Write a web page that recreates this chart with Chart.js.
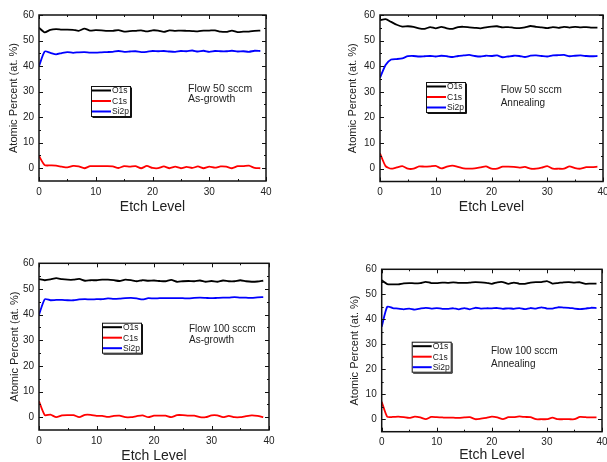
<!DOCTYPE html>
<html>
<head>
<meta charset="utf-8">
<script src="https://cdn.jsdelivr.net/npm/chart.js@4.4.1/dist/chart.umd.min.js"></script>
<style>
  html, body { margin: 0; padding: 0; background: #fff; width: 607px; height: 462px; overflow: hidden; }
  canvas { position: absolute; }
</style>
</head>
<body>
<canvas id="c1" width="300" height="230" style="left:0;top:0"></canvas>
<canvas id="c2" width="307" height="230" style="left:300px;top:0"></canvas>
<canvas id="c3" width="300" height="232" style="left:0;top:230px"></canvas>
<canvas id="c4" width="307" height="232" style="left:300px;top:230px"></canvas>
<script>
// Etch levels (x values) shared by all four depth profiles
const etchLevel = [0, 1, 2, 3, 4, 5, 6, 7, 8, 9,
  10, 11, 12, 13, 14, 15, 16, 17, 18, 19,
  20, 21, 22, 23, 24, 25, 26, 27, 28, 29,
  30, 31, 32, 33, 34, 35, 36, 37, 38, 39];

const xTickValues = [0, 10, 20, 30, 40];
const xMinorValues = [5, 15, 25, 35];
const yTickValues = [0, 10, 20, 30, 40, 50, 60];
const yMinorValues = [5, 15, 25, 35, 45, 55];

// Flow 50 sccm, as-growth
const o1s50Grown = [55.0, 53.2, 54.2, 54.5, 54.3, 54.3, 54.2, 53.8, 54.7, 53.9,
  54.1, 54.0, 53.8, 53.8, 54.1, 53.5, 53.7, 53.8, 54.0, 53.6,
  54.0, 53.9, 53.4, 54.0, 53.8, 53.9, 53.8, 53.7, 53.6, 53.9,
  53.9, 54.0, 53.5, 53.4, 53.9, 53.3, 53.5, 53.5, 53.8, 53.9];
const c1s50Grown = [4.8, 1.2, 1.1, 1.0, 0.6, 0.3, 0.9, 0.7, 0.0, 0.8,
  0.8, 0.8, 0.8, 0.7, 0.1, 0.8, 0.6, 0.8, 0.0, 0.9,
  0.1, 0.0, 0.7, 0.0, 0.6, 0.0, 0.5, 0.1, 0.7, 0.0,
  0.6, 0.2, 0.7, 0.6, 0.0, 0.8, 0.8, 1.0, 0.1, 0.0];
const si2p50Grown = [40.0, 45.7, 45.2, 44.6, 45.1, 45.5, 45.2, 45.4, 45.5, 45.3,
  45.3, 45.4, 45.5, 45.6, 45.9, 45.6, 45.7, 45.8, 45.5, 45.6,
  45.9, 45.8, 45.9, 45.7, 45.6, 45.9, 45.8, 46.1, 45.7, 46.0,
  45.6, 45.9, 45.8, 45.8, 46.0, 45.7, 45.8, 45.6, 46.0, 45.9];

// Flow 50 sccm, annealed
const o1s50Anneal = [58.0, 58.4, 57.3, 56.2, 55.5, 55.6, 55.4, 54.8, 54.6, 55.3,
  54.8, 55.4, 54.8, 54.6, 55.3, 55.4, 55.2, 55.0, 54.8, 55.2,
  55.5, 55.6, 55.2, 55.3, 55.0, 54.9, 55.2, 55.7, 55.4, 55.2,
  54.9, 55.3, 55.0, 55.4, 55.1, 55.4, 55.2, 55.3, 55.1, 55.1];
const c1s50Anneal = [6.0, 1.0, 0.0, 0.5, 1.0, 0.0, 0.0, 0.9, 0.8, 0.9,
  1.1, 0.1, 0.8, 1.2, 0.7, 0.1, 0.0, 0.1, 0.5, 0.9,
  0.0, 0.0, 0.8, 0.8, 0.7, 0.4, 0.7, 0.0, 0.0, 0.4,
  1.0, 0.0, 0.0, 0.0, 0.9, 0.2, 0.0, 0.6, 0.6, 0.8];
const si2p50Anneal = [35.5, 40.5, 42.6, 42.8, 43.1, 43.9, 44.0, 43.8, 43.9, 44.0,
  43.8, 44.1, 43.9, 43.6, 44.0, 44.2, 44.4, 44.0, 43.8, 44.1,
  44.0, 44.2, 43.5, 43.8, 44.1, 44.0, 43.6, 44.1, 44.2, 44.0,
  43.8, 44.2, 44.3, 44.4, 43.9, 44.1, 44.2, 44.0, 43.9, 44.0];

// Flow 100 sccm, as-growth
const o1s100Grown = [53.8, 53.4, 53.7, 54.2, 53.8, 53.6, 53.6, 53.9, 53.2, 53.4,
  53.4, 53.6, 53.6, 53.4, 53.1, 53.6, 53.4, 53.0, 53.4, 53.2,
  53.3, 53.1, 53.0, 53.5, 52.8, 53.0, 53.1, 53.0, 53.3, 52.8,
  53.1, 52.8, 53.3, 53.0, 53.0, 53.4, 53.0, 52.8, 52.9, 53.2];
const c1s100Grown = [6.2, 0.8, 1.0, 0.0, 0.7, 0.8, 0.8, 0.0, 0.9, 0.9,
  0.5, 0.5, 0.1, 0.5, 0.6, 0.0, 0.0, 0.4, 0.7, 0.0,
  0.6, 0.6, 0.6, 0.0, 0.8, 0.8, 0.6, 0.6, 0.0, 0.0,
  0.7, 0.7, 0.0, 0.5, 0.0, 0.0, 0.4, 0.7, 0.5, 0.0];
const si2p100Grown = [39.9, 46.0, 45.6, 45.7, 45.7, 45.6, 45.6, 45.9, 46.0, 45.9,
  46.0, 46.0, 46.3, 46.1, 46.2, 46.4, 46.5, 46.3, 45.9, 46.4,
  46.3, 46.4, 46.4, 46.4, 46.4, 46.4, 46.3, 46.5, 46.6, 46.5,
  46.4, 46.5, 46.6, 46.6, 46.8, 46.6, 46.6, 46.5, 46.7, 46.8];

// Flow 100 sccm, annealed
const o1s100Anneal = [55.6, 54.1, 54.0, 54.0, 54.4, 54.5, 54.4, 54.5, 55.0, 54.5,
  54.5, 54.7, 54.6, 54.8, 54.6, 54.6, 54.7, 54.9, 54.8, 54.6,
  54.2, 54.8, 54.9, 54.2, 54.7, 54.2, 54.2, 54.7, 54.9, 54.9,
  55.3, 54.3, 54.5, 54.8, 54.9, 54.7, 54.8, 54.2, 54.3, 54.3];
const c1s100Anneal = [7.0, 1.0, 0.9, 1.0, 0.8, 0.5, 1.0, 0.7, 0.0, 0.9,
  0.8, 0.7, 0.6, 0.6, 0.5, 0.7, 0.8, 0.0, 0.2, 0.5,
  1.0, 0.7, 0.0, 0.8, 0.8, 1.1, 0.9, 0.8, 0.0, 0.0,
  0.0, 0.6, 0.0, 0.0, 0.0, 0.0, 0.9, 0.8, 0.7, 0.7];
const si2p100Anneal = [37.0, 45.0, 44.5, 44.3, 44.0, 44.3, 43.9, 44.3, 44.6, 44.3,
  44.5, 44.2, 44.2, 44.4, 44.0, 44.5, 44.0, 44.6, 44.3, 44.4,
  44.4, 44.5, 44.2, 44.4, 44.2, 44.5, 44.1, 44.5, 44.3, 44.8,
  44.3, 44.3, 44.8, 44.7, 44.6, 44.3, 44.1, 44.3, 44.6, 44.5];

const FONT = "'Liberation Sans', Arial, sans-serif";
Chart.defaults.font.family = FONT;

// Frame with inward ticks on all sides, a boxed key and a text note inside the plot
const frameAndNotes = {
  id: 'frameAndNotes',
  afterDatasetsDraw(chart, args, opts) {
    const { ctx, chartArea: a, scales: { x, y } } = chart;
    ctx.save();
    ctx.strokeStyle = '#111';
    ctx.lineWidth = 1;
    ctx.beginPath();
    const xt = (vals, len) => vals.forEach(v => {
      const px = Math.round(x.getPixelForValue(v)) + 0.5;
      ctx.moveTo(px, a.bottom); ctx.lineTo(px, a.bottom - len);
      ctx.moveTo(px, a.top); ctx.lineTo(px, a.top + len);
    });
    const yt = (vals, len) => vals.forEach(v => {
      const py = Math.round(y.getPixelForValue(v)) + 0.5;
      ctx.moveTo(a.left, py); ctx.lineTo(a.left + len, py);
      ctx.moveTo(a.right, py); ctx.lineTo(a.right - len, py);
    });
    xt(xTickValues, 4); xt(xMinorValues, 2);
    yt(yTickValues, 4); yt(yMinorValues, 2);
    ctx.stroke();

    ctx.lineWidth = 1.5;
    ctx.strokeRect(a.left, a.top, a.right - a.left, a.bottom - a.top);

    // key box
    const k = opts.key;
    const kw = 39, kh = 30;
    ctx.fillStyle = '#fff';
    ctx.fillRect(k.x, k.y, kw, kh);
    ctx.lineWidth = 1;
    ctx.strokeStyle = '#111';
    ctx.strokeRect(k.x + 0.5, k.y + 0.5, kw, kh);
    ctx.beginPath();
    ctx.moveTo(k.x + kw + 1.5, k.y + 1.5); ctx.lineTo(k.x + kw + 1.5, k.y + kh + 1.5);
    ctx.lineTo(k.x + 1.5, k.y + kh + 1.5);
    ctx.stroke();
    ctx.font = '8.5px ' + FONT;
    ctx.textBaseline = 'middle';
    ctx.textAlign = 'left';
    chart.data.datasets.forEach((ds, i) => {
      const ry = k.y + 4.5 + i * 10.5;
      ctx.strokeStyle = ds.borderColor;
      ctx.lineWidth = 2;
      ctx.beginPath();
      ctx.moveTo(k.x + 1, ry); ctx.lineTo(k.x + 20, ry);
      ctx.stroke();
      ctx.fillStyle = '#222';
      ctx.fillText(ds.label, k.x + 21, ry + 0.5);
    });

    // sample note
    const n = opts.note;
    ctx.font = n.size + 'px ' + FONT;
    ctx.fillStyle = '#222';
    n.lines.forEach((t, i) => ctx.fillText(t, n.x, n.y + i * n.gap));
    ctx.restore();
  }
};

const panels = [
  { id: 'c1', o1s: o1s50Grown, c1s: c1s50Grown, si2p: si2p50Grown,
    yWidth: 39, top: 15, right: 34, xHeight: 49, yTitlePad: 7.4, xTitlePad: 14.6,
    key: { x: 91, y: 86 }, note: { x: 188, y: 89, gap: 10.5, size: 10.5, lines: ['Flow 50 sccm', 'As-growth'] } },
  { id: 'c2', o1s: o1s50Anneal, c1s: c1s50Anneal, si2p: si2p50Anneal,
    yWidth: 80, top: 15, right: 4, xHeight: 48.5, yTitlePad: 46.4, xTitlePad: 14.6,
    key: { x: 126, y: 82 }, note: { x: 200.7, y: 90.7, gap: 12.6, size: 10, lines: ['Flow 50 sccm', 'Annealing'] } },
  { id: 'c3', o1s: o1s100Grown, c1s: c1s100Grown, si2p: si2p100Grown,
    yWidth: 39, top: 33.3, right: 31, xHeight: 32, yTitlePad: 8.4, xTitlePad: -2.4,
    key: { x: 102, y: 92.7 }, note: { x: 189, y: 99, gap: 11, size: 10, lines: ['Flow 100 sccm', 'As-growth'] } },
  { id: 'c4', o1s: o1s100Anneal, c1s: c1s100Anneal, si2p: si2p100Anneal,
    yWidth: 81.7, top: 39.3, right: 5, xHeight: 30.3, yTitlePad: 48.4, xTitlePad: -1.4,
    key: { x: 111.7, y: 111.7 }, note: { x: 191, y: 121.7, gap: 12.3, size: 10, lines: ['Flow 100 sccm', 'Annealing'] } }
];

const series = (label, values, color) => ({
  label,
  data: etchLevel.map((lv, i) => ({ x: lv, y: values[i] })),
  borderColor: color,
  backgroundColor: color,
  borderWidth: 1.8,
  pointRadius: 0,
  tension: 0.2,
  fill: false
});

panels.forEach(p => {
  new Chart(document.getElementById(p.id), {
    type: 'line',
    data: {
      datasets: [
        series('O1s', p.o1s, '#000000'),
        series('C1s', p.c1s, '#ff0000'),
        series('Si2p', p.si2p, '#0000ff')
      ]
    },
    options: {
      responsive: false,
      animation: false,
      layout: { padding: { left: 0, top: p.top, right: p.right, bottom: 0 } },
      plugins: {
        legend: { display: false },
        tooltip: { enabled: false },
        frameAndNotes: { key: p.key, note: p.note }
      },
      scales: {
        x: {
          type: 'linear', min: 0, max: 40,
          afterBuildTicks: s => { s.ticks = xTickValues.map(v => ({ value: v })); },
          afterFit: s => { s.height = p.xHeight; s.paddingLeft = 0; s.paddingRight = 0; },
          grid: { display: false, drawTicks: false },
          border: { display: false },
          ticks: { padding: 5, autoSkip: false, maxRotation: 0, color: '#222', font: { size: 10 } },
          title: { display: true, text: 'Etch Level', color: '#222', font: { size: 14 },
                   padding: { top: 0, bottom: p.xTitlePad } }
        },
        y: {
          type: 'linear', min: -5, max: 60,
          afterBuildTicks: s => { s.ticks = yTickValues.map(v => ({ value: v })); },
          afterFit: s => { s.width = p.yWidth; s.paddingTop = 0; s.paddingBottom = 0; },
          grid: { display: false, drawTicks: false },
          border: { display: false },
          ticks: { padding: 5, color: '#222', font: { size: 10 } },
          title: { display: true, text: 'Atomic Percent (at. %)', color: '#222', font: { size: 11 },
                   padding: { top: p.yTitlePad, bottom: 0 } }
        }
      }
    },
    plugins: [frameAndNotes]
  });
});
</script>
</body>
</html>
